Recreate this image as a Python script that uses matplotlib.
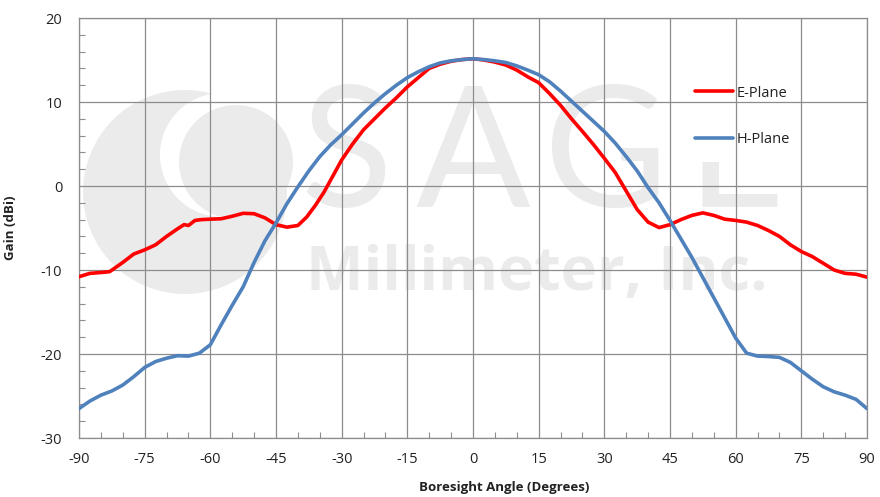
import matplotlib
matplotlib.use("Agg")
import matplotlib.pyplot as plt
from matplotlib.patches import Ellipse
from matplotlib.ticker import MultipleLocator

e_angle = [-90, -87.5, -85, -83, -80, -77.5, -75, -72.5, -70, -67.5, -66, -65, -63.5, -62, -60,
           -57.5, -55, -52.5, -50, -47.5, -45, -42.5, -40, -38, -36, -34, -32, -30, -27.5, -25,
           -22.5, -20, -17.5, -15, -12.5, -10, -7.5, -5, -2.5, 0, 2.5, 5, 7.5, 10, 12.5, 15,
           17.5, 20, 22.5, 25, 27.5, 30, 32.5, 35, 37.5, 40, 42.5, 45, 47.5, 50, 52.5, 55,
           57.5, 60, 62.5, 65, 67.5, 70, 72.5, 75, 77.5, 80, 82.5, 85, 87.5, 90]
e_gain = [-10.8, -10.4, -10.3, -10.2, -9.1, -8.1, -7.6, -7.0, -6.0, -5.1, -4.6, -4.7, -4.1, -4.0, -3.95,
          -3.9, -3.6, -3.25, -3.3, -3.8, -4.6, -4.9, -4.7, -3.7, -2.3, -0.7, 1.2, 3.1, 5.0, 6.7,
          8.0, 9.3, 10.5, 11.8, 12.9, 14.0, 14.5, 14.85, 15.05, 15.15, 15.0, 14.75, 14.4, 13.8, 13.0, 12.3,
          11.0, 9.6, 8.0, 6.5, 4.95, 3.3, 1.6, -0.6, -2.8, -4.3, -4.95, -4.6, -4.0, -3.5, -3.2, -3.5,
          -3.95, -4.1, -4.3, -4.7, -5.3, -6.0, -7.0, -7.8, -8.4, -9.2, -10.0, -10.4, -10.5, -10.85]

h_angle = [-90, -87.5, -85, -82.5, -80, -77.5, -75, -72.5, -70, -67.5, -65, -62.5, -60, -57.5, -55,
           -52.5, -50, -47.5, -45, -42.5, -40, -37.5, -35, -32.5, -30, -27.5, -25, -22.5, -20,
           -17.5, -15, -12.5, -10, -7.5, -5, -2.5, 0, 2.5, 5, 7.5, 10, 12.5, 15, 17.5, 20, 22.5,
           25, 27.5, 30, 32.5, 35, 37.5, 40, 42.5, 45, 47.5, 50, 52.5, 55, 57.5, 60, 62.5, 65,
           67.5, 70, 72.5, 75, 77.5, 80, 82.5, 85, 87.5, 90]
h_gain = [-26.5, -25.6, -24.9, -24.4, -23.7, -22.7, -21.6, -20.9, -20.5, -20.2, -20.25, -19.9, -18.9, -16.5, -14.2,
          -12.0, -9.1, -6.5, -4.4, -2.1, -0.1, 1.8, 3.5, 4.9, 6.1, 7.4, 8.7, 9.9, 11.0,
          12.0, 12.9, 13.6, 14.2, 14.65, 14.9, 15.05, 15.15, 15.05, 14.9, 14.7, 14.3, 13.8, 13.25, 12.4, 11.3, 10.1,
          8.9, 7.7, 6.5, 5.1, 3.5, 1.8, -0.2, -2.0, -4.1, -6.3, -8.5, -10.9, -13.3, -15.7, -18.1, -19.9, -20.25,
          -20.3, -20.4, -21.0, -22.0, -23.0, -23.9, -24.5, -24.9, -25.4, -26.5]

x_ticks = [-90, -75, -60, -45, -30, -15, 0, 15, 30, 45, 60, 75, 90]
y_ticks = [-30, -20, -10, 0, 10, 20]

plt.rcParams['font.family'] = ['Open Sans', 'DejaVu Sans']
plt.rcParams['axes.unicode_minus'] = False

W, H = 880, 497
fig = plt.figure(figsize=(W / 100, H / 100), dpi=100)
ax = fig.add_axes([79 / W, 1 - 438 / H, (867 - 79) / W, (438 - 18) / H])

# watermark logo and text (decoration, placed in figure pixels)
wm = '#ebebeb'
def circ(cx, cy, r, color, z):
    ax.add_patch(Ellipse((cx / W, 1 - cy / H), 2 * r / W, 2 * r / H, transform=fig.transFigure,
                         facecolor=color, edgecolor='none', zorder=z))
circ(185, 192, 102, wm, 0.1)
circ(222, 155, 62, 'white', 0.2)
circ(236, 162, 57, wm, 0.3)
for letter, cx in zip('SAGE', [346, 473, 606, 735]):
    ax.text(cx / W, 1 - 207 / H, letter, transform=fig.transFigure, fontsize=122, color=wm,
            ha='center', va='baseline', family=['Lato', 'DejaVu Sans'], zorder=0.4)
ax.text(537 / W, 1 - 290 / H, 'Millimeter, Inc.', transform=fig.transFigure, fontsize=44, color=wm,
        ha='center', va='baseline', family=['Open Sans', 'DejaVu Sans'], fontweight='bold', zorder=0.4)

ax.plot(e_angle, e_gain, color='#ff0000', lw=2.6, label='E-Plane', zorder=3, solid_capstyle='round')
ax.plot(h_angle, h_gain, color='#4f81bd', lw=2.6, label='H-Plane', zorder=3, solid_capstyle='round')

ax.set_xlim(-90, 90)
ax.set_ylim(-30, 20)
ax.set_xticks(x_ticks)
ax.set_yticks(y_ticks)
ax.xaxis.set_minor_locator(MultipleLocator(5))
ax.yaxis.set_minor_locator(MultipleLocator(2))
ax.grid(True, which='major', color='#8c8c8c', lw=0.9)
ax.set_axisbelow(False)
for s in ax.spines.values():
    s.set_color('#8c8c8c')
    s.set_linewidth(0.9)
ax.tick_params(which='major', length=0, labelsize=10.5, colors='#222222', pad=10)
ax.tick_params(which='minor', direction='in', length=4, color='#8c8c8c', width=0.8)
ax.tick_params(axis='y', which='major', pad=12)

ax.set_xlabel('Boresight Angle (Degrees)', fontsize=9.5, fontweight='bold', color='#222222')
ax.set_ylabel('Gain (dBi)', fontsize=9.5, fontweight='bold', color='#222222')
ax.xaxis.set_label_coords((504 - 79) / (867 - 79), -(481 - 438) / (438 - 18))
ax.yaxis.set_label_coords(-(79 - 17) / (867 - 79), 0.5)

leg = ax.legend(loc='upper left', bbox_to_anchor=((680 - 79) / (867 - 79), 1 - (71 - 18) / (438 - 18)),
                frameon=True, facecolor='white', edgecolor='none', framealpha=1, fancybox=False,
                fontsize=10.5, labelspacing=2.15, handlelength=2.6, handletextpad=0.3,
                borderpad=1.0, borderaxespad=0)
leg.set_zorder(0.5)
for t in leg.get_texts():
    t.set_color('#222222')

fig.savefig('out.png', dpi=100)
